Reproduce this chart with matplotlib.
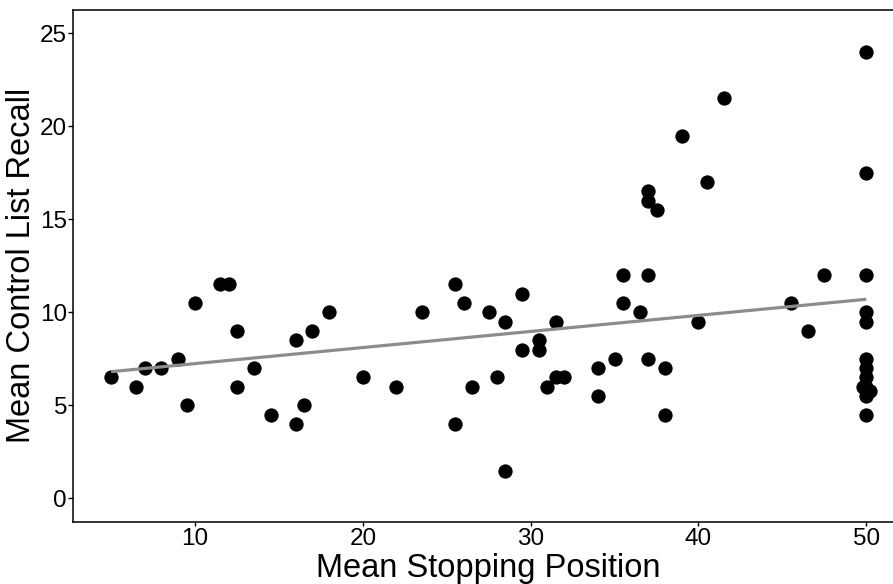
import numpy as np
import matplotlib
matplotlib.use("Agg")
import matplotlib.pyplot as plt

plt.rcParams['font.family'] = ['Liberation Sans', 'DejaVu Sans']

# mean stopping position and mean control list recall, one pair per participant
stop_pos = [5, 6.5, 7, 8, 9, 9.5, 10, 11.5, 12, 12.5, 12.5, 13.5, 14.5, 16, 16, 16.5, 17, 18,
            20, 22, 23.5, 25.5, 26, 25.5, 26.5, 27.5, 28, 28.5, 28.5, 29.5, 29.5, 30.5, 30.5,
            31.5, 31, 31.5, 32, 34, 34, 35, 35.5, 35.5, 37, 36.5, 37, 38, 38,
            41.5, 39, 40.5, 37, 37, 37.5, 40, 45.5, 46.5, 47.5,
            50, 50, 50, 50, 50, 50, 50, 50, 50, 50, 49.8, 50.2, 50]
recall = [6.5, 6, 7, 7, 7.5, 5, 10.5, 11.5, 11.5, 9, 6, 7, 4.5, 8.5, 4, 5, 9, 10,
          6.5, 6, 10, 11.5, 10.5, 4, 6, 10, 6.5, 9.5, 1.5, 11, 8, 8.5, 8,
          9.5, 6, 6.5, 6.5, 7, 5.5, 7.5, 12, 10.5, 12, 10, 7.5, 7, 4.5,
          21.5, 19.5, 17, 16.5, 16, 15.5, 9.5, 10.5, 9, 12,
          24, 17.5, 12, 10, 9.5, 7.5, 7, 6.5, 6, 5.5, 6, 5.8, 4.5]

x = np.array(stop_pos)
y = np.array(recall)

# least squares fit
slope, intercept = np.polyfit(x, y, 1)
fit_x = np.linspace(x.min(), 50, 50)
fit_y = intercept + slope * fit_x

fig = plt.figure(figsize=(8.93, 5.84), dpi=100)
ax = fig.add_axes([0.0821, 0.1067, 0.9303, 0.8762])

ax.scatter(x, y, s=106, color='black', linewidths=0, zorder=2)
ax.plot(fit_x, fit_y, color='#8c8c8c', linewidth=2.3, zorder=3,
        solid_capstyle='butt')

ax.set_xlim(2.75, 52.25)
ax.set_ylim(-1.25, 26.25)
ax.set_xticks([10, 20, 30, 40, 50])
ax.set_yticks([0, 5, 10, 15, 20, 25])

for s in ax.spines.values():
    s.set_linewidth(1.1)
    s.set_color('black')

ax.tick_params(axis='both', labelsize=17.5, colors='black', width=1.0)
ax.tick_params(axis='x', length=3, pad=1.5)
ax.tick_params(axis='y', length=3.5, pad=1)

ax.set_xlabel('Mean Stopping Position', fontsize=23.5)
ax.set_ylabel('Mean Control List Recall', fontsize=23.5)
ax.xaxis.set_label_coords(0.5, -0.061)
ax.yaxis.set_label_coords(-0.0435, 0.5)

fig.savefig('out.png', dpi=100)
